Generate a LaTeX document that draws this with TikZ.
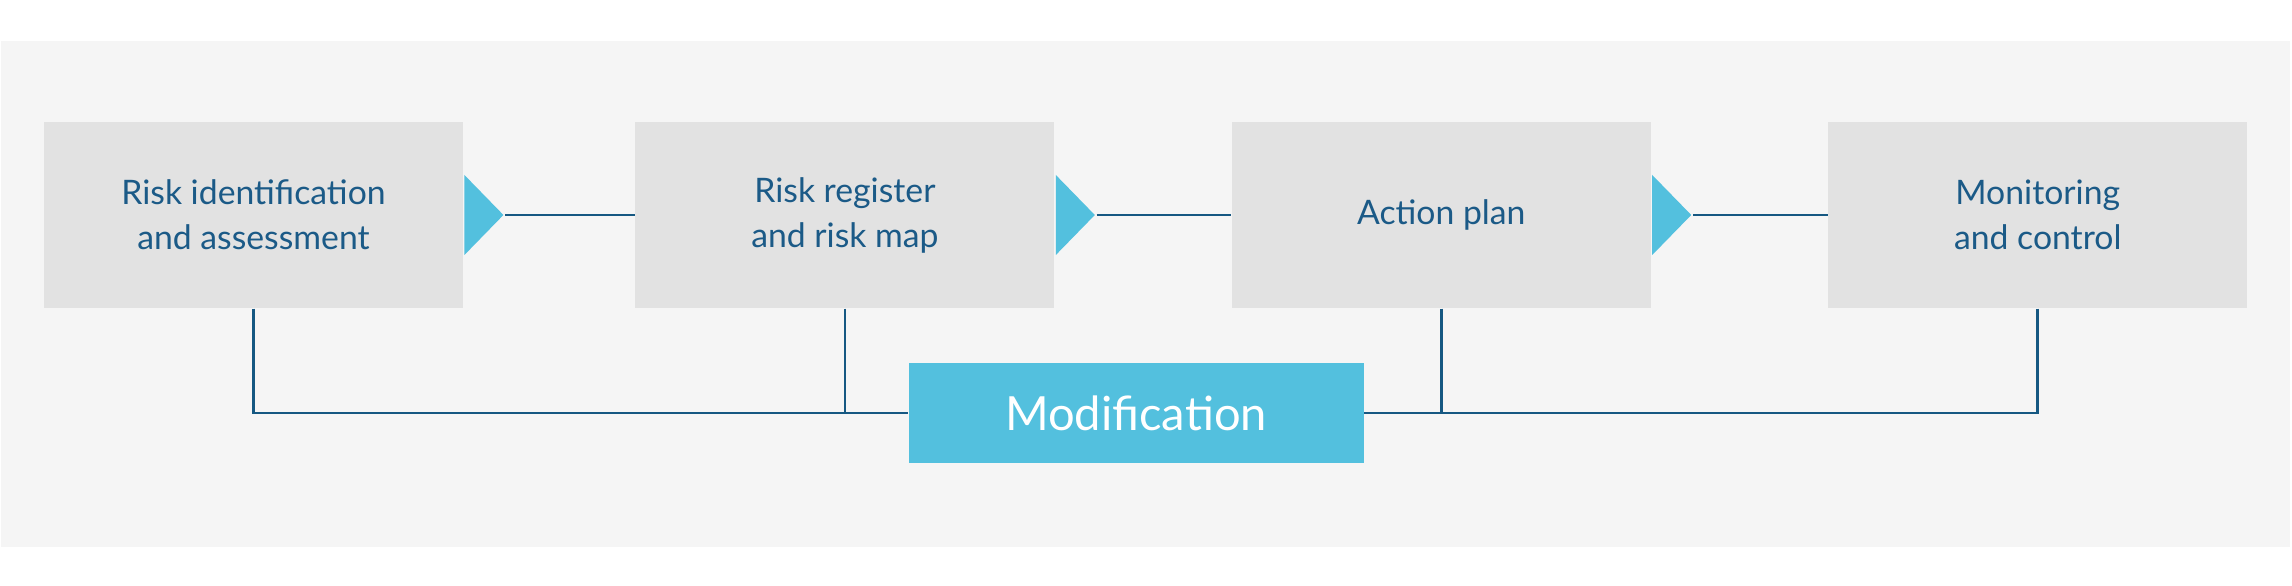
\documentclass[tikz,border=0pt]{standalone}
\usepackage{fontspec}
\setmainfont{Lato}
\usepackage{tikz}
\usetikzlibrary{positioning,calc,shapes.geometric}
\definecolor{bggray}{RGB}{245,245,245}
\definecolor{boxgray}{RGB}{226,226,226}
\definecolor{stepblue}{RGB}{27,90,135}
\definecolor{linkblue}{RGB}{22,88,130}
\definecolor{tipcyan}{RGB}{83,192,222}

\begin{document}
\begin{tikzpicture}[
  stepbox/.style={fill=boxgray, minimum width=4.19cm, minimum height=1.86cm,
                  inner sep=0pt, align=center, text=stepblue,
                  font=\fontsize{9.6}{12.8}\selectfont},
  modbox/.style={fill=tipcyan, minimum width=4.55cm, minimum height=1.0cm,
                 inner sep=0pt, text=white, font=\fontsize{13.4}{16}\selectfont},
  tip/.style={isosceles triangle, isosceles triangle stretches, fill=tipcyan,
              minimum height=0.39cm, minimum width=0.8cm, inner sep=0pt,
              anchor=west},
  link/.style={draw=linkblue, line width=0.8pt}
]

% Canvas
\useasboundingbox (0,0) rectangle (22.92,5.86);
\fill[bggray] (0.01,0.39) rectangle (22.90,5.45);

% Process steps
\node[stepbox] (ident) at (2.535,3.71) {Risk identification\\and assessment};
\node[stepbox, right=1.71cm of ident] (register) {Risk register\\and risk map};
\node[stepbox, right=1.76cm of register] (action) {Action plan};
\node[stepbox, right=1.76cm of action] (monitor) {Monitoring\\and control};

% Arrow tips
\node[tip] (tipa) at (ident.east) {};
\node[tip] (tipb) at (register.east) {};
\node[tip] (tipc) at (action.east) {};

% Flow links
\draw[link] (tipa.apex) -- (register);
\draw[link] (tipb.apex) -- (action);
\draw[link] (tipc.apex) -- (monitor);

% Modification
\node[modbox] (modif) at (11.36,1.73) {Modification};
\draw[link] (ident.south) |- (modif.west);
\draw[link] (register.south) -- (register.south |- modif.west);
\draw[link] (monitor.south) |- (modif.east);
\draw[link] (action.south) -- (action.south |- modif.east);

\end{tikzpicture}
\end{document}
